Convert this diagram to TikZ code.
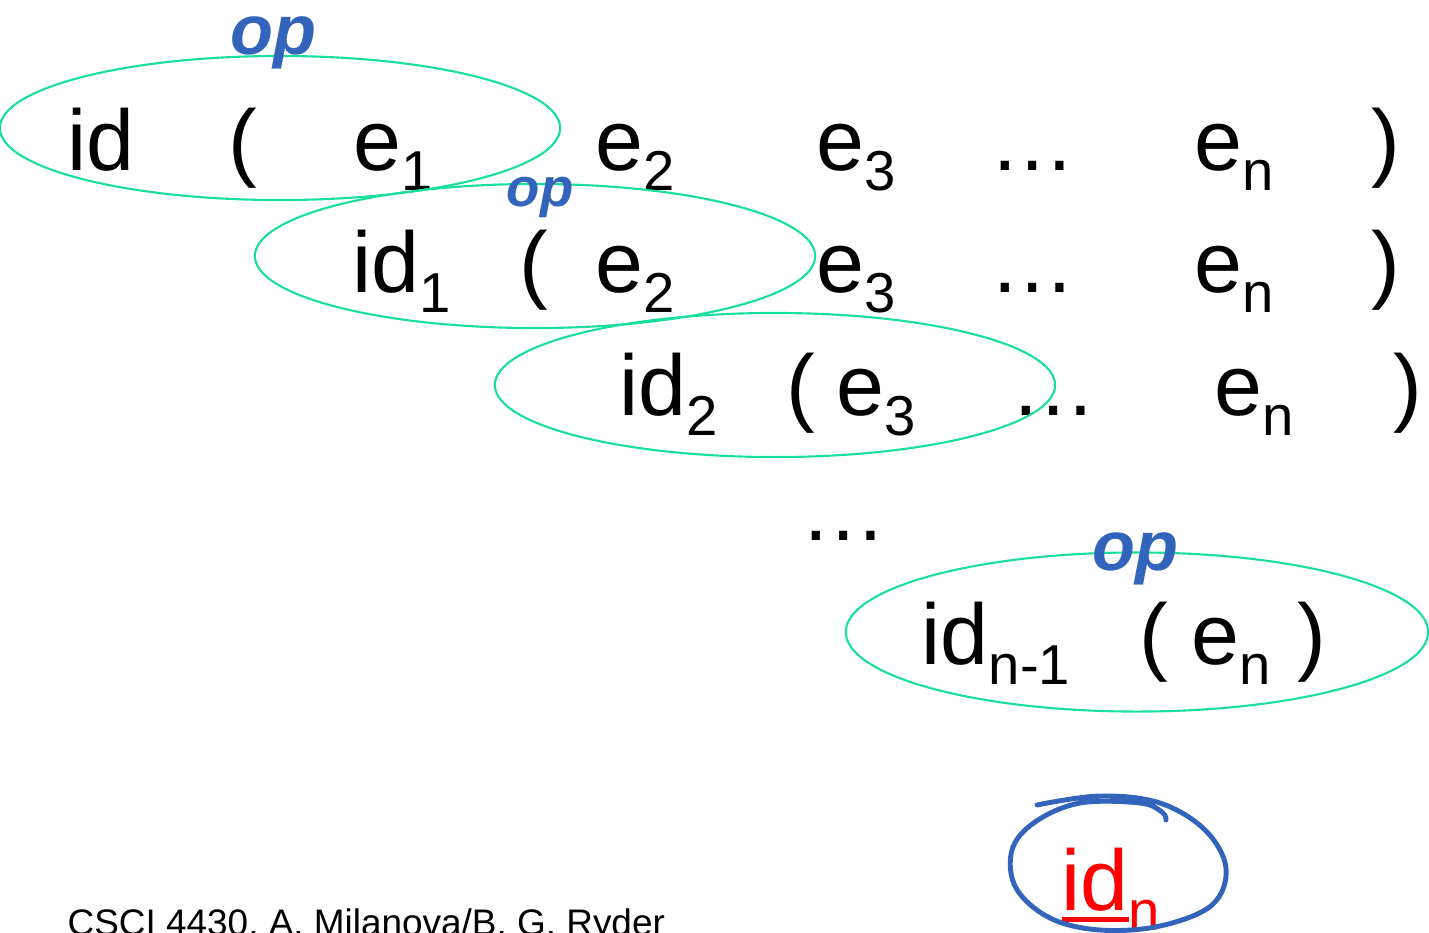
\documentclass[tikz,border=0pt]{standalone}
\usepackage{fontspec}
\setmainfont{Liberation Sans}
\usetikzlibrary{positioning, shapes.geometric}

\definecolor{grpgreen}{RGB}{24,222,160}
\definecolor{inkblue}{RGB}{50,100,188}
\definecolor{pickred}{RGB}{255,0,0}

% subscript, lowered like the slide's
\newcommand{\sub}[1]{\raisebox{-5.7pt}{\fontsize{16}{16}\selectfont #1}}
% thick underline
\newcommand{\thickul}[1]{\setbox0\hbox{#1}\rlap{\rule[-3.4pt]{\wd0}{1.4pt}}\box0}

\tikzset{
  tok/.style={anchor=base west, inner sep=0pt, font=\fontsize{24.5}{29}\selectfont},
  grp/.style={ellipse, draw=grpgreen, line width=0.6pt, inner sep=0pt,
    minimum width=5.6cm, minimum height=1.44cm},
  ink/.style={anchor=base west, inner sep=0pt, text=inkblue,
    font=\bfseries\itshape\fontsize{19}{19}\selectfont},
  hand/.style={draw=inkblue, line width=1.4pt, line cap=round, line join=round},
}

\begin{document}
\begin{tikzpicture}[x=0.01cm, y=-0.01cm]
	\useasboundingbox (0,0) rectangle (1429,932);
	
	% --- wiersz 1 ---
	\node[tok] (r1id) at (67,170) {id};
	\node[tok] (r1lp) at (228,170) {(};
	\node[tok] (r1ea) at (353,170) {e\sub{1}};
	\node[tok] (r1eb) at (595,170) {e\sub{2}};
	\node[tok] (r1ec) at (816,170) {e\sub{3}};
	\node[tok] (r1dots) at (989,170) {…};
	\node[tok] (r1en) at (1194,170) {e\sub{n}};
	\node[tok] (r1rp) at (1371,170) {)};
	
	% --- wiersz 2 ---
	\node[tok] (r2id) at (352,292) {id\sub{1}};
	\node[tok] (r2lp) at (519,292) {(};
	\node[tok] (r2eb) at (595,292) {e\sub{2}};
	\node[tok] (r2ec) at (816,292) {e\sub{3}};
	\node[tok] (r2dots) at (989,292) {…};
	\node[tok] (r2en) at (1194,292) {e\sub{n}};
	\node[tok] (r2rp) at (1371,292) {)};
	
	% --- wiersz 3 ---
	\node[tok] (r3id) at (619,415) {id\sub{2}};
	\node[tok] (r3lp) at (786,415) {(};
	\node[tok] (r3ec) at (836,415) {e\sub{3}};
	\node[tok] (r3dots) at (1010,415) {…};
	\node[tok] (r3en) at (1214,415) {e\sub{n}};
	\node[tok] (r3rp) at (1393,415) {)};
	
	\node[tok] (vdots) at (800,540) {…};
	
	% --- ostatni wiersz ---
	\node[tok] (r5id) at (921,664) {id\sub{n-1}};
	\node[tok] (r5lp) at (1139,664) {(};
	\node[tok] (r5en) at (1191,664) {e\sub{n}};
	\node[tok] (r5rp) at (1297,664) {)};
	
	% wynik
	\node[tok, text=pickred] (idn) at (1061,910) {\thickul{id}\sub{n}};
	
	% --- grupy (zielone elipsy) ---
	\node[grp] (grp1) at (280,128) {};
	\node[grp] (grp2) at (535,256) {};
	\node[grp] (grp3) at (775,385) {};
	\node[grp, minimum width=5.82cm, minimum height=1.59cm] (grp4) at (1137,632) {};
	
	% --- odręczne "op" ---
	\node[ink, font=\bfseries\itshape\fontsize{20}{20}\selectfont] (op1) at (230,54) {op};
	\node[ink, font=\bfseries\itshape\fontsize{15.5}{16}\selectfont] (op2) at (506,206) {op};
	\node[ink, font=\bfseries\itshape\fontsize{20}{20}\selectfont] (op3) at (1092,570) {op};
	
	% kółko wokół id_n
	\draw[hand] plot[smooth, tension=0.6] coordinates {(1037,805) (1100,796) (1160,803) (1205,830) (1226,868) (1212,905) (1160,926) (1100,930) (1050,918) (1016,888) (1012,850) (1035,822) (1080,803) (1140,803) (1162,812) (1166,820)};
	
	% stopka
	\node[tok, font=\fontsize{10.5}{12}\selectfont] (footer) at (67,935) {CSCI 4430, A. Milanova/B. G. Ryder};
\end{tikzpicture}
\end{document}
